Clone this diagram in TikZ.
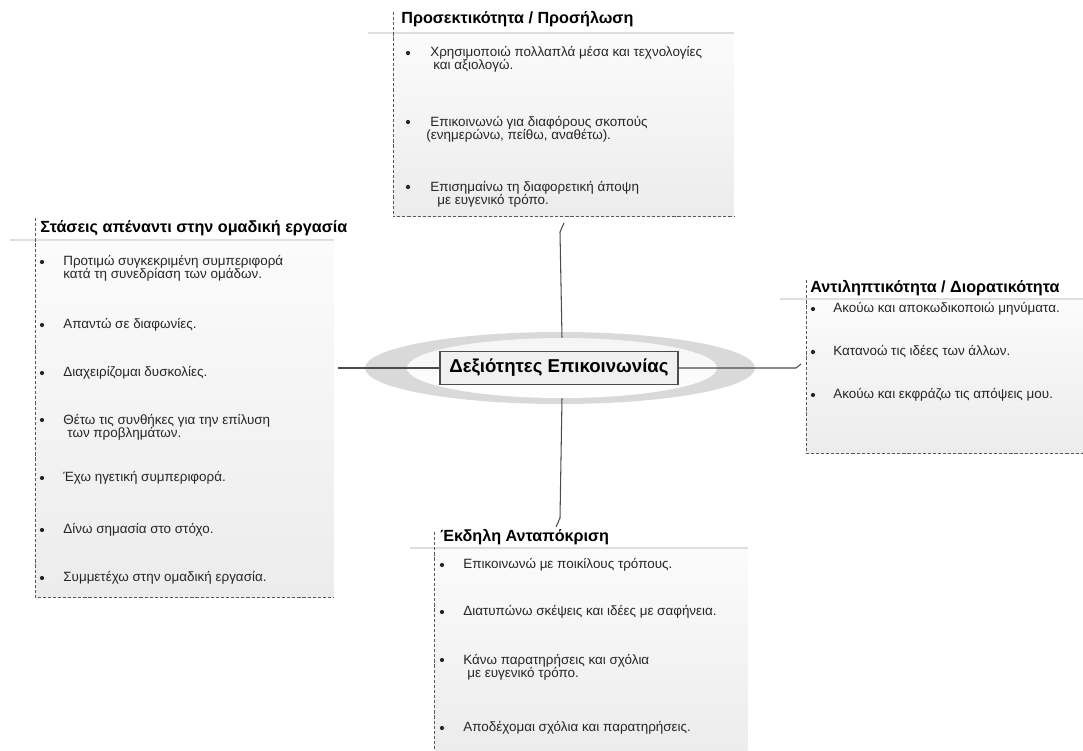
\documentclass[tikz,border=0pt]{standalone}
\usepackage{fontspec}
\setmainfont{Liberation Sans}
\usetikzlibrary{shapes.geometric}

\begin{document}
\begin{tikzpicture}[x=0.02cm,y=-0.02cm,
	panel/.style={rectangle, inner sep=0pt, anchor=north west, top color=gray!3, bottom color=gray!15},
	head/.style={anchor=west, inner sep=0pt, font=\bfseries\fontsize{9.2}{10}\selectfont},
	item/.style={anchor=west, inner sep=0pt, align=left, text=black!85, font=\fontsize{7.65}{7.5}\selectfont},
	dot/.style={circle, inner sep=0pt, minimum size=2.4pt, fill=black!85},
	rim/.style={draw=black!65, line width=0.45pt, dash pattern=on 1.8pt off 1.1pt},
	sep/.style={draw=gray!25, line width=1pt},
	edge/.style={draw=black!70, line width=0.6pt}]
	\useasboundingbox (0,0) rectangle (1083,751);

	% panels
	\node[panel, minimum width=6.8cm, minimum height=3.66cm] (ptop) at (393,33) {};
	\node[panel, minimum width=5.96cm, minimum height=7.14cm] (pleft) at (35,240) {};
	\node[panel, minimum width=5.54cm, minimum height=3.08cm] (pright) at (806,299) {};
	\node[panel, minimum width=6.26cm, minimum height=4.06cm] (pbot) at (434,548) {};

	\draw[sep] (368,33) -- (ptop.north east);
	\draw[sep] (10,240) -- (pleft.north east);
	\draw[sep] (780,299) -- (pright.north east);
	\draw[sep] (410,548) -- (pbot.north east);

	\draw[rim] (393,12) -- (ptop.south west) -- (ptop.south east);
	\draw[rim] (35,218) -- (pleft.south west) -- (pleft.south east);
	\draw[rim] (806,280) -- (pright.south west) -- (pright.south east);
	\draw[rim] (434,532) -- (pbot.south west);

	% titles
	\node[head] (ttop) at (401,19) {Προσεκτικότητα / Προσήλωση};
	\node[head] (tleft) at (40,228) {Στάσεις απέναντι στην ομαδική εργασία};
	\node[head] (tright) at (810,288) {Αντιληπτικότητα / Διορατικότητα};
	\node[head] (tbot) at (440,537) {Έκδηλη Ανταπόκριση};

	% top items
	\node[dot] (b1) at (408,53) {};
	\node[item] (i1) at (430,59) {Χρησιμοποιώ πολλαπλά μέσα και τεχνολογίες\\\hspace*{1.7pt}και αξιολογώ.};
	\node[dot] (b2) at (408,122) {};
	\node[item] (i2) at (430,129) {Επικοινωνώ για διαφόρους σκοπούς\\\hspace*{-2.2pt}(ενημερώνω, πείθω, αναθέτω).};
	\node[dot] (b3) at (408,187) {};
	\node[item] (i3) at (430,194) {Επισημαίνω τη διαφορετική άποψη\\\hspace*{4pt}με ευγενικό τρόπο.};

	% left items
	\node[dot] (l1) at (42,262) {};
	\node[item] (j1) at (63,268) {Προτιμώ συγκεκριμένη συμπεριφορά\\κατά τη συνεδρίαση των ομάδων.};
	\node[dot] (l2) at (42,325) {};
	\node[item] (j2) at (63,325) {Απαντώ σε διαφωνίες.};
	\node[dot] (l3) at (42,373) {};
	\node[item] (j3) at (63,373) {Διαχειρίζομαι δυσκολίες.};
	\node[dot] (l4) at (42,420) {};
	\node[item] (j4) at (63,427) {Θέτω τις συνθήκες για την επίλυση\\\hspace*{2.3pt}των προβλημάτων.};
	\node[dot] (l5) at (42,478) {};
	\node[item] (j5) at (63,478) {Έχω ηγετική συμπεριφορά.};
	\node[dot] (l6) at (42,530) {};
	\node[item] (j6) at (63,530) {Δίνω σημασία στο στόχο.};
	\node[dot] (l7) at (42,578) {};
	\node[item] (j7) at (63,578) {Συμμετέχω στην ομαδική εργασία.};

	% right items
	\node[dot] (r1) at (813,309) {};
	\node[item] (k1) at (833,309) {Ακούω και αποκωδικοποιώ μηνύματα.};
	\node[dot] (r2) at (813,352) {};
	\node[item] (k2) at (833,352) {Κατανοώ τις ιδέες των άλλων.};
	\node[dot] (r3) at (813,395) {};
	\node[item] (k3) at (833,395) {Ακούω και εκφράζω τις απόψεις μου.};

	% bottom items
	\node[dot] (d1) at (442,565) {};
	\node[item] (m1) at (463,565) {Επικοινωνώ με ποικίλους τρόπους.};
	\node[dot] (d2) at (442,612) {};
	\node[item] (m2) at (463,612) {Διατυπώνω σκέψεις και ιδέες με σαφήνεια.};
	\node[dot] (d3) at (442,660) {};
	\node[item] (m3) at (463,667) {Κάνω παρατηρήσεις και σχόλια\\\hspace*{2.3pt}με ευγενικό τρόπο.};
	\node[dot] (d4) at (442,728) {};
	\node[item] (m4) at (463,728) {Αποδέχομαι σχόλια και παρατηρήσεις.};

	% centre
	\node[ellipse, inner sep=0pt, minimum width=7.8cm, minimum height=1.44cm,
		top color=gray!30, middle color=gray!72, bottom color=gray!30] (ring) at (560,368) {};
	\node[ellipse, inner sep=0pt, minimum width=6.2cm, minimum height=1.2cm,
		top color=gray!8, bottom color=white] (core) at (562,368) {};

	\coordinate (lend) at (338,368);
	\coordinate (rbend) at (796,368);
	\coordinate (rend) at (801,364);
	\coordinate (tbend) at (560,232);
	\coordinate (tend) at (564,223);
	\coordinate (bbend) at (560,518);
	\coordinate (bend) at (556,527);

	\draw[edge] (core.north) -- (tbend) -- (tend);
	\draw[edge] (core.south) -- (bbend) -- (bend);
	\draw[edge] (lend) -- (460,368);
	\draw[edge] (660,368) -- (rbend) -- (rend);

	\node[rectangle, draw=black!70, line width=0.8pt, fill=gray!12, minimum width=4.76cm, minimum height=0.66cm,
		font=\bfseries\fontsize{10.6}{12}\selectfont] (hub) at (559,368) {Δεξιότητες Επικοινωνίας};
\end{tikzpicture}
\end{document}
